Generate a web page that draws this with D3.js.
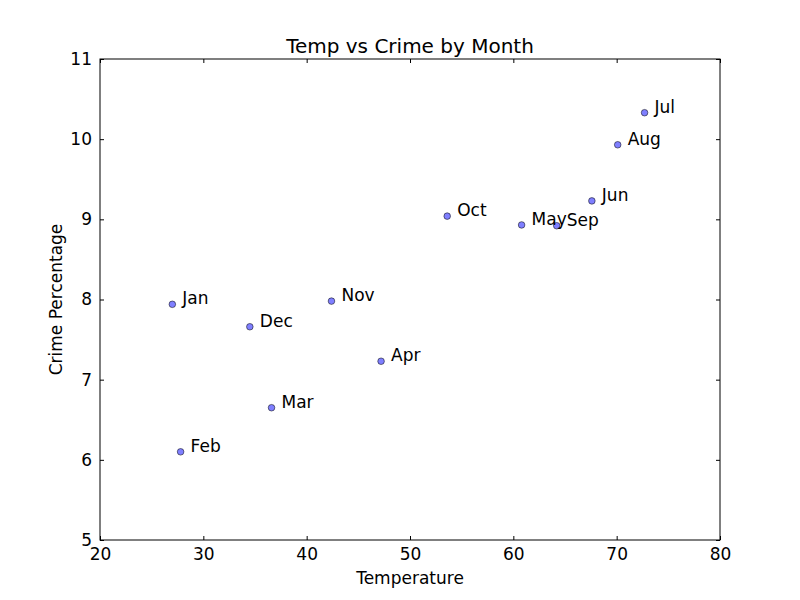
<!DOCTYPE html>
<html><head><meta charset="utf-8">
<script src="https://cdn.jsdelivr.net/npm/d3@7"></script>
<style>body{margin:0;background:#fff}text{font-family:"DejaVu Sans",sans-serif}</style>
</head><body><svg id="c" width="800" height="600"></svg>
<script>
const months = ["Jan","Feb","Mar","Apr","May","Jun","Jul","Aug","Sep","Oct","Nov","Dec"];
const temps  = [27.0, 27.8, 36.6, 47.2, 60.8, 67.6, 72.7, 70.1, 64.2, 53.6, 42.4, 34.5];
const crime  = [7.94, 6.10, 6.65, 7.23, 8.93, 9.23, 10.33, 9.93, 8.92, 9.04, 7.98, 7.66];
const xTicks = [20,30,40,50,60,70,80];
const yTicks = [5,6,7,8,9,10,11];

const svg = d3.select("#c");
const L=100,R=720,T=59,B=540;
const x = d3.scaleLinear().domain([20,80]).range([L,R]);
const y = d3.scaleLinear().domain([5,11]).range([B,T]);
const fs = 17;

const g = svg.append("g");
const tl = 4;
g.append("g").attr("transform",`translate(0,${B})`).call(d3.axisBottom(x).tickValues(xTicks).tickFormat(d3.format("d")).tickSizeInner(-tl).tickSizeOuter(0).tickPadding(8))
 .call(a=>{a.select(".domain").remove();a.selectAll("text").attr("font-size",fs).attr("fill","#000");});
g.append("g").attr("transform",`translate(0,${T})`).call(d3.axisTop(x).tickValues(xTicks).tickSizeInner(-tl).tickSizeOuter(0).tickFormat(""))
 .call(a=>a.select(".domain").remove());
g.append("g").attr("transform",`translate(${L},0)`).call(d3.axisLeft(y).tickValues(yTicks).tickFormat(d3.format("d")).tickSizeInner(-tl).tickSizeOuter(0).tickPadding(8))
 .call(a=>{a.select(".domain").remove();a.selectAll("text").attr("font-size",fs).attr("fill","#000");});
g.append("g").attr("transform",`translate(${R},0)`).call(d3.axisRight(y).tickValues(yTicks).tickSizeInner(-tl).tickSizeOuter(0).tickFormat(""))
 .call(a=>a.select(".domain").remove());
g.selectAll(".tick line").attr("stroke","#000");

svg.append("rect").attr("x",L).attr("y",T).attr("width",R-L).attr("height",B-T)
  .attr("fill","none").attr("stroke","#000").attr("stroke-width",1);

const idx = d3.range(months.length);
svg.selectAll("circle.pt").data(idx).join("circle").attr("class","pt")
  .attr("cx",i=>x(temps[i])).attr("cy",i=>y(crime[i])).attr("r",3.3)
  .attr("fill","rgba(0,0,255,0.5)").attr("stroke","rgba(0,0,0,0.5)").attr("stroke-width",1);

svg.selectAll("text.lab").data(idx).join("text").attr("class","lab")
  .attr("x",i=>x(temps[i])+10).attr("y",i=>y(crime[i]))
  .attr("font-size",fs).attr("fill","#000").text(i=>months[i]);

svg.append("text").attr("x",(L+R)/2).attr("y",T-6).attr("text-anchor","middle")
  .attr("font-size",20).text("Temp vs Crime by Month");
svg.append("text").attr("x",(L+R)/2).attr("y",584).attr("text-anchor","middle")
  .attr("font-size",fs).text("Temperature");
svg.append("text").attr("transform",`translate(62,${(T+B)/2}) rotate(-90)`).attr("text-anchor","middle")
  .attr("font-size",fs).text("Crime Percentage");
</script></body></html>
